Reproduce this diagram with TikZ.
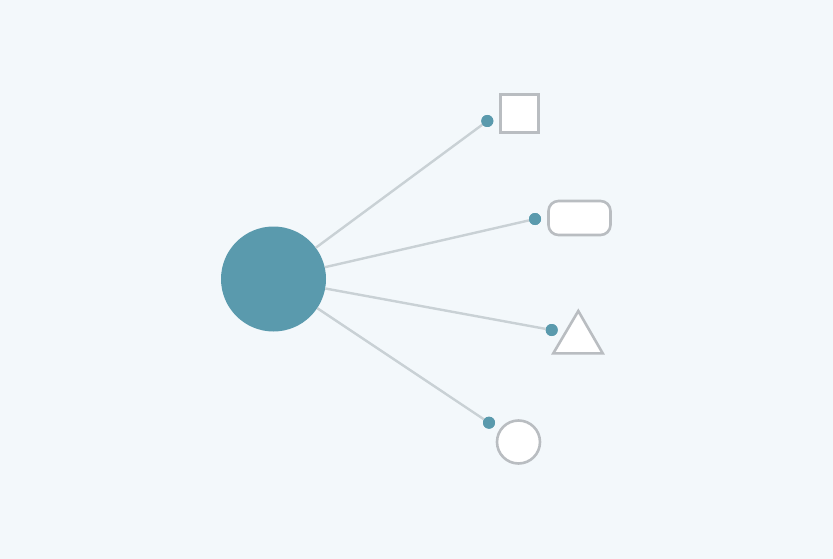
\documentclass[tikz,border=0pt]{standalone}
\definecolor{bg}{HTML}{F3F8FB}
\definecolor{teal}{HTML}{5A9AAD}
\definecolor{linkc}{HTML}{C9D1D5}
\definecolor{shapec}{HTML}{B9BDC1}
\tikzset{
  hub/.style={circle, fill=teal, draw=none, minimum size=105pt, inner sep=0pt},
  dotn/.style={circle, fill=teal, draw=none, minimum size=12pt, inner sep=0pt},
  link/.style={draw=linkc, line width=2.4pt},
  shp/.style={draw=shapec, fill=white, line width=2.6pt, inner sep=0pt}
}
\begin{document}
\begin{tikzpicture}[x=1pt,y=-1pt]
\fill[bg] (0,0) rectangle (833,559);
\useasboundingbox (0,0) rectangle (833,559);
\node[hub] (hub) at (273.5,279) {};
\node[dotn] (d1) at (487.3,121) {};
\node[dotn] (d2) at (535,219) {};
\node[dotn] (d3) at (551.7,330) {};
\node[dotn] (d4) at (489,422.7) {};
\draw[link] (hub) -- (d1);
\draw[link] (hub) -- (d2);
\draw[link] (hub) -- (d3);
\draw[link] (hub) -- (d4);
\node[dotn] at (d1) {};
\node[dotn] at (d2) {};
\node[dotn] at (d3) {};
\node[dotn] at (d4) {};
\node[shp, rectangle, minimum width=38pt, minimum height=38pt] (sq) at (519.3,113.7) {};
\node[shp, rectangle, rounded corners=10pt, minimum width=62pt, minimum height=34pt] (rr) at (579.5,218) {};
\draw[shp, line join=miter] (553.3,353.3) -- (578.3,311) -- (602.7,353.3) -- cycle;
\node[shp, circle, minimum size=43pt] (ci) at (518.5,442) {};
\end{tikzpicture}
\end{document}
